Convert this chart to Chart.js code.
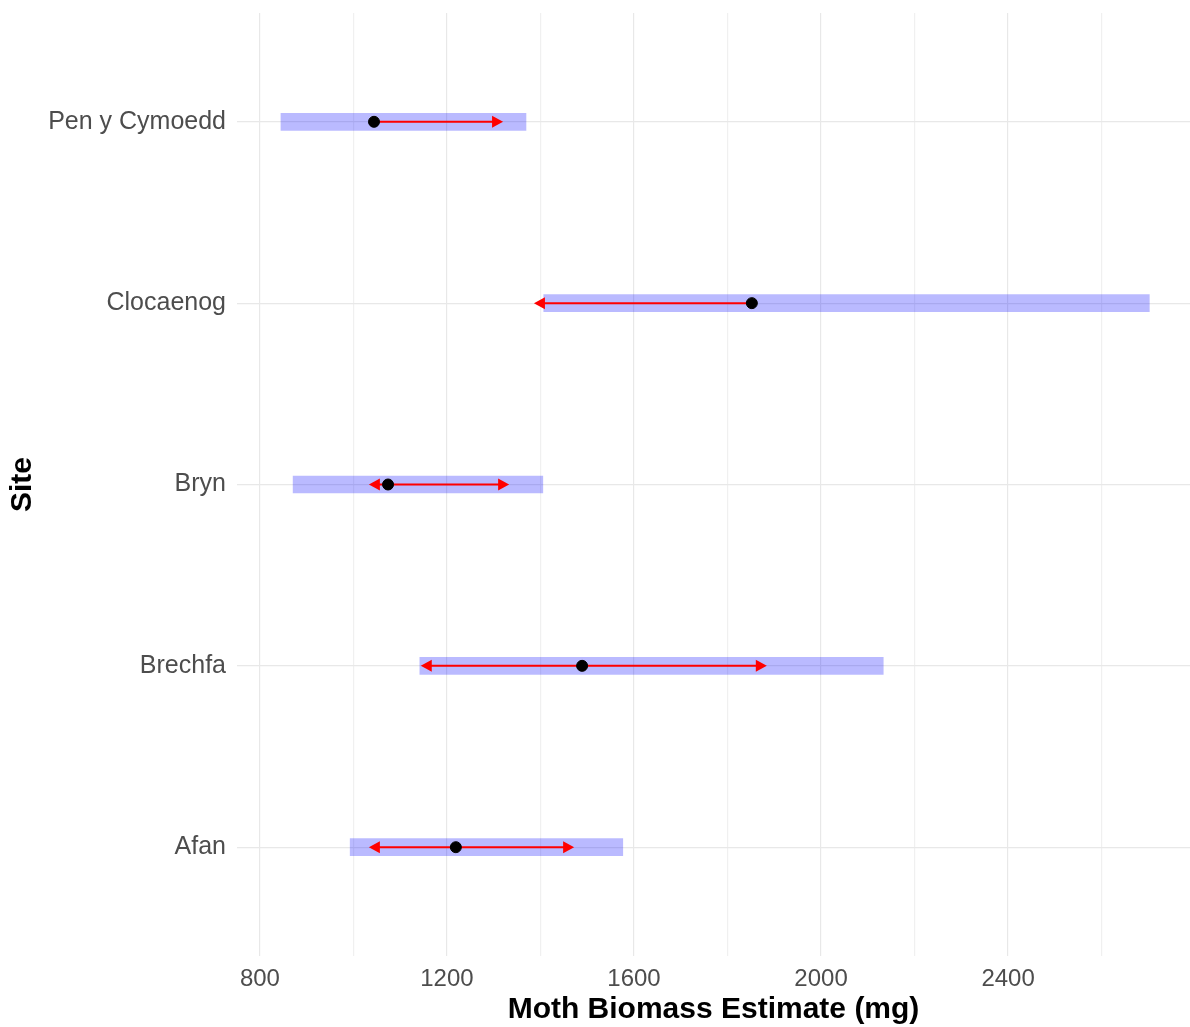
<!DOCTYPE html>
<html>
<head>
<meta charset="utf-8">
<script src="https://cdn.jsdelivr.net/npm/chart.js@4.4.1/dist/chart.umd.min.js"></script>
<style>
  html, body { margin: 0; padding: 0; background: #fff; overflow: hidden; }
  #wrap { position: absolute; left: 0; top: 0; width: 1190px; height: 1027px; }
  canvas { display: block; }
</style>
</head>
<body>
<div id="wrap"><canvas id="myChart"></canvas></div>
<script>
// sites listed bottom to top
const sites = ["Afan", "Brechfa", "Bryn", "Clocaenog", "Pen y Cymoedd"];
const lower = [993, 1142, 871, 1407, 845];
const upper = [1576, 2133, 1405, 2702, 1369];
const estimate = [1219, 1489, 1074, 1852, 1044];
const arrowLow = [1033, 1144, 1033, 1386, null];
const arrowHigh = [1472, 1884, 1333, null, 1320];
const xTicks = [800, 1000, 1200, 1400, 1600, 1800, 2000, 2200, 2400, 2600];

const arrowPlugin = {
    id: "arrows",
    afterDatasetDraw(chart, args) {
        if (args.meta.type !== "bar") return;
        const ctx = chart.ctx;
        const xs = chart.scales.x, ys = chart.scales.y;
        ctx.save();
        ctx.strokeStyle = "#ff0000";
        ctx.fillStyle = "#ff0000";
        ctx.lineWidth = 2;
        sites.forEach((s, i) => {
            const y = ys.getPixelForValue(i + 1);
            const p = xs.getPixelForValue(estimate[i]);
            [arrowLow[i], arrowHigh[i]].forEach(tip => {
                if (tip == null) return;
                const t = xs.getPixelForValue(tip);
                const dir = t > p ? 1 : -1;
                const base = t - dir * 11;
                ctx.beginPath();
                ctx.moveTo(p, y);
                ctx.lineTo(base + dir, y);
                ctx.stroke();
                ctx.beginPath();
                ctx.moveTo(t, y);
                ctx.lineTo(base, y - 6);
                ctx.lineTo(base, y + 6);
                ctx.closePath();
                ctx.fill();
            });
        });
        ctx.restore();
    }
};

const ctx = document.getElementById("myChart");

new Chart(ctx, {
    type: "bar",
    data: {
        datasets: [{
            type: "bar",
            data: sites.map((s, i) => ({ x: [lower[i], upper[i]], y: i + 1 })),
            backgroundColor: "rgba(0, 0, 255, 0.27)",
            borderWidth: 0,
            barThickness: 17,
            order: 2
        }, {
            type: "scatter",
            data: sites.map((s, i) => ({ x: estimate[i], y: i + 1 })),
            backgroundColor: "#000",
            borderColor: "#000",
            pointRadius: 5.5,
            pointHoverRadius: 5.5,
            showLine: false,
            order: 1
        }]
    },
    options: {
        indexAxis: "y",
        responsive: true,
        maintainAspectRatio: false,
        animation: false,
        layout: { autoPadding: false, padding: { top: 13, right: 0, left: 0, bottom: 0 } },
        plugins: {
            legend: { display: false },
            tooltip: { enabled: false }
        },
        scales: {
            x: {
                type: "linear",
                min: 751,
                max: 2789,
                offset: false,
                afterBuildTicks: axis => { axis.ticks = xTicks.map(v => ({ value: v })); },
                afterFit: axis => { axis.height = 71; axis.paddingLeft = 0; axis.paddingRight = 0; },
                border: { display: false },
                grid: {
                    drawTicks: false,
                    offset: false,
                    color: c => (c.tick && c.tick.value % 400 === 0) ? "#e8e8e8" : "#f0f0f0",
                    lineWidth: 1.2
                },
                ticks: {
                    autoSkip: false,
                    maxRotation: 0,
                    padding: 9,
                    color: "#4d4d4d",
                    font: { family: "Liberation Sans", size: 24 },
                    callback: v => (v % 400 === 0 ? String(v) : "")
                },
                title: {
                    display: true,
                    text: "Moth Biomass Estimate (mg)",
                    color: "#000",
                    font: { family: "Liberation Sans", size: 30, weight: "bold", lineHeight: 1.0 },
                    padding: { top: 0, bottom: 2 }
                }
            },
            y: {
                type: "linear",
                min: 0.4,
                max: 5.6,
                offset: false,
                afterBuildTicks: axis => { axis.ticks = sites.map((s, i) => ({ value: i + 1 })); },
                afterFit: axis => { axis.width = 237; axis.paddingTop = 0; axis.paddingBottom = 0; },
                border: { display: false },
                grid: { drawTicks: false, offset: false, color: "#e8e8e8", lineWidth: 1.2 },
                ticks: {
                    autoSkip: false,
                    padding: 11,
                    color: "#4d4d4d",
                    font: { family: "Liberation Sans", size: 25 },
                    callback: v => sites[v - 1]
                },
                title: {
                    display: true,
                    text: "Site",
                    color: "#000",
                    font: { family: "Liberation Sans", size: 30, weight: "bold", lineHeight: 1.0 },
                    padding: { top: 8, bottom: 0 }
                }
            }
        }
    },
    plugins: [arrowPlugin]
});
</script>
</body>
</html>
